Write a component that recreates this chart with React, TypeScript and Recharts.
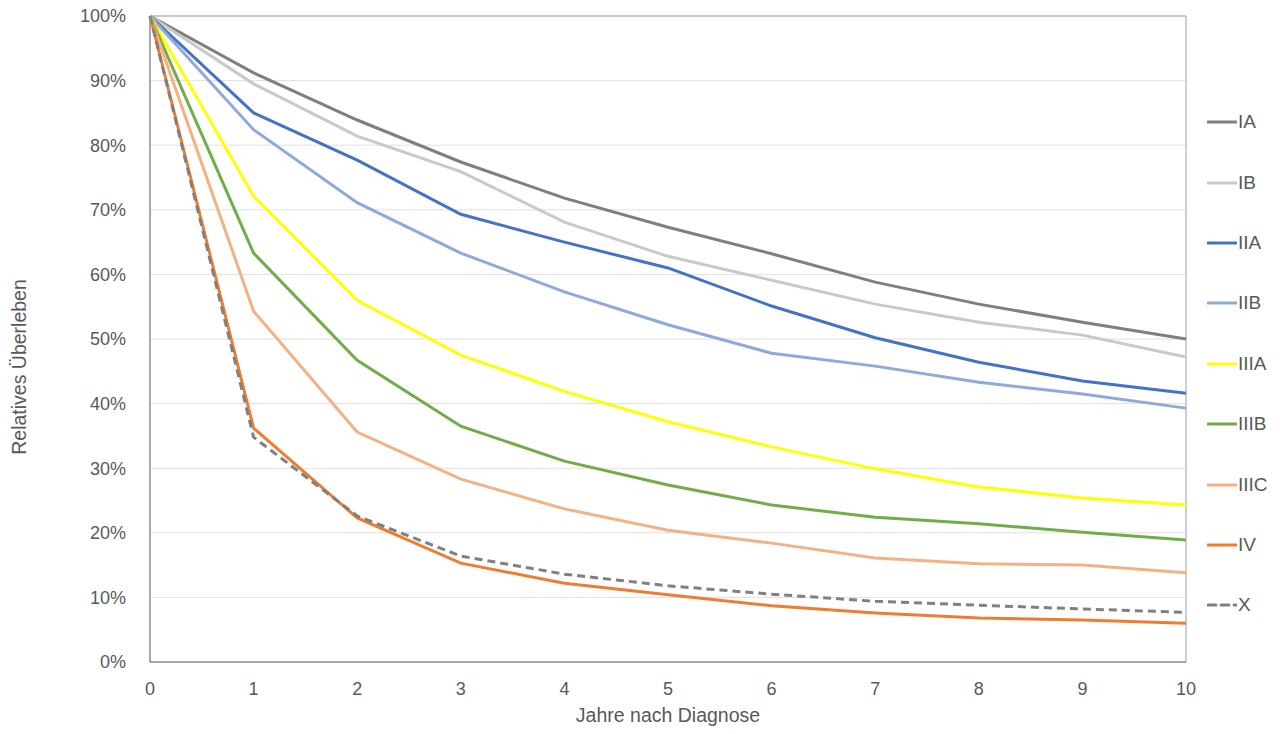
import React from 'react';
import { LineChart, Line, XAxis, YAxis, CartesianGrid, ReferenceLine, Legend } from 'recharts';

const years = [0, 1, 2, 3, 4, 5, 6, 7, 8, 9, 10];
const yTicks = [0, 10, 20, 30, 40, 50, 60, 70, 80, 90, 100];

const stageIA = [100, 91.2, 83.9, 77.4, 71.8, 67.3, 63.2, 58.8, 55.4, 52.6, 50.0];
const stageIB = [100, 89.5, 81.4, 75.9, 68.1, 62.8, 59.1, 55.4, 52.6, 50.6, 47.2];
const stageIIA = [100, 85.0, 77.7, 69.3, 65.0, 61.0, 55.1, 50.2, 46.4, 43.5, 41.6];
const stageIIB = [100, 82.4, 71.1, 63.3, 57.3, 52.2, 47.8, 45.8, 43.3, 41.5, 39.3];
const stageIIIA = [100, 72.1, 56.0, 47.5, 41.9, 37.2, 33.3, 29.9, 27.1, 25.4, 24.3];
const stageIIIB = [100, 63.3, 46.7, 36.5, 31.1, 27.4, 24.3, 22.4, 21.4, 20.1, 18.9];
const stageIIIC = [100, 54.3, 35.6, 28.3, 23.7, 20.4, 18.4, 16.1, 15.2, 15.0, 13.8];
const stageIV = [100, 36.2, 22.3, 15.3, 12.2, 10.4, 8.7, 7.6, 6.8, 6.5, 6.0];
const stageX = [100, 34.8, 22.6, 16.4, 13.6, 11.8, 10.5, 9.4, 8.8, 8.2, 7.7];

const series = [
  { key: 'IA', values: stageIA, color: '#7f7f7f', dash: undefined },
  { key: 'IB', values: stageIB, color: '#c9c9c9', dash: undefined },
  { key: 'IIA', values: stageIIA, color: '#4472c4', dash: undefined },
  { key: 'IIB', values: stageIIB, color: '#8eaadb', dash: undefined },
  { key: 'IIIA', values: stageIIIA, color: '#ffff00', dash: undefined },
  { key: 'IIIB', values: stageIIIB, color: '#70ad47', dash: undefined },
  { key: 'IIIC', values: stageIIIC, color: '#f4b183', dash: undefined },
  { key: 'IV', values: stageIV, color: '#ed7d31', dash: undefined },
  { key: 'X', values: stageX, color: '#808080', dash: '8 5' },
];

const data = years.map((y, i) => {
  const row: Record<string, number> = { year: y };
  series.forEach(s => {
    row[s.key] = s.values[i];
  });
  return row;
});

const font = '"Liberation Sans", Arial, sans-serif';
const textColor = '#595959';

const LegendBox = () => (
  <div style={{ fontFamily: font }}>
    {series.map(s => (
      <div key={s.key} style={{ display: 'flex', alignItems: 'center', height: 60.4 }}>
        <svg width={30} height={6}>
          <line x1={1} y1={3} x2={29} y2={3} stroke={s.color} strokeWidth={3} strokeDasharray={s.dash} strokeLinecap="round" />
        </svg>
        <span style={{ fontSize: 19, color: textColor, marginLeft: 1 }}>{s.key}</span>
      </div>
    ))}
  </div>
);

export default function App() {
  return (
    <div style={{ position: 'absolute', left: 0, top: 0, width: 1280, height: 734, background: '#fff' }}>
      <LineChart width={1280} height={734} data={data} margin={{ top: 16, right: 24, bottom: 0, left: 0 }}>
        <CartesianGrid vertical={false} stroke="#e0e0e0" />
        <XAxis
          dataKey="year"
          type="number"
          domain={[0, 10]}
          ticks={years}
          height={72}
          tickLine={false}
          tickMargin={14}
          stroke="#8c8c8c"
          strokeWidth={1.5}
          tick={{ fill: textColor, fontSize: 18, fontFamily: font }}
          label={{ value: 'Jahre nach Diagnose', position: 'insideBottom', offset: 12, fill: textColor, fontSize: 19.5, fontFamily: font }}
        />
        <YAxis
          type="number"
          domain={[0, 100]}
          ticks={yTicks}
          width={150}
          tickLine={false}
          tickMargin={18}
          stroke="#8c8c8c"
          strokeWidth={1.5}
          tickFormatter={(v: number) => `${v}%`}
          tick={{ fill: textColor, fontSize: 18, fontFamily: font }}
          label={{
            content: () => (
              <text
                x={26}
                y={367}
                transform="rotate(-90 26 367)"
                textAnchor="middle"
                fill={textColor}
                fontSize={19.5}
                fontFamily={font}
              >
                Relatives Überleben
              </text>
            ),
          }}
        />
        <ReferenceLine y={100} stroke="#bfbfbf" strokeWidth={1.5} />
        <ReferenceLine x={10} stroke="#bfbfbf" strokeWidth={1.5} />
        <Legend
          layout="vertical"
          align="right"
          verticalAlign="top"
          content={<LegendBox />}
          wrapperStyle={{ left: 1207, top: 92, width: 70 }}
        />
        {series.map(s => (
          <Line
            key={s.key}
            dataKey={s.key}
            type="linear"
            stroke={s.color}
            strokeWidth={3}
            strokeDasharray={s.dash}
            dot={false}
            activeDot={false}
            isAnimationActive={false}
          />
        ))}
      </LineChart>
    </div>
  );
}
